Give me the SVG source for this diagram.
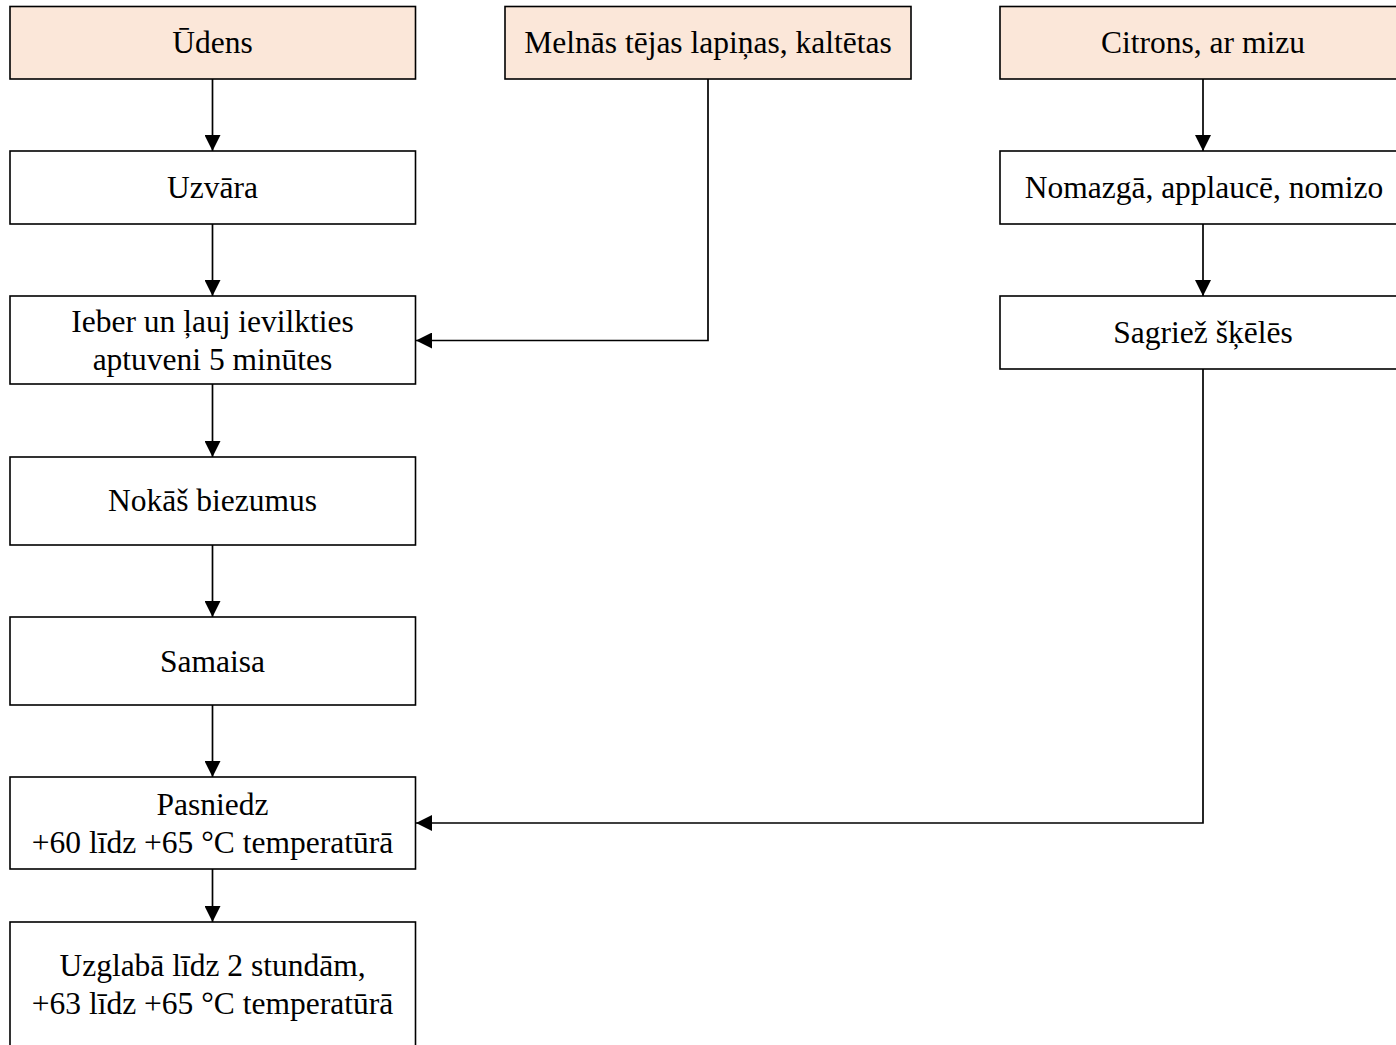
<svg xmlns="http://www.w3.org/2000/svg" width="1396" height="1045" viewBox="0 0 1396 1045">
<style>
.box{fill:#ffffff;stroke:#000;stroke-width:1.6}
.in{fill:#fbe7d9}
.t{font-family:"Liberation Serif","Times New Roman",serif;font-size:31.5px;fill:#000;text-anchor:middle}
.c{fill:none;stroke:#000;stroke-width:1.7}
</style>
<defs>
<marker id="ah" markerUnits="userSpaceOnUse" markerWidth="16" markerHeight="16" refX="16" refY="8" orient="auto">
<path d="M0,0 L16,8 L0,16 Z" fill="#000"/>
</marker>
</defs>
<rect width="1396" height="1045" fill="#fff"/>
<g id="connectors">
<line class="c" x1="212.5" y1="79" x2="212.5" y2="151" marker-end="url(#ah)"/>
<line class="c" x1="212.5" y1="224" x2="212.5" y2="296" marker-end="url(#ah)"/>
<line class="c" x1="212.5" y1="384" x2="212.5" y2="457" marker-end="url(#ah)"/>
<line class="c" x1="212.5" y1="545" x2="212.5" y2="617" marker-end="url(#ah)"/>
<line class="c" x1="212.5" y1="705" x2="212.5" y2="777" marker-end="url(#ah)"/>
<line class="c" x1="212.5" y1="869" x2="212.5" y2="922" marker-end="url(#ah)"/>
<polyline class="c" points="708,79 708,340.5 416,340.5" marker-end="url(#ah)"/>
<line class="c" x1="1203" y1="79" x2="1203" y2="151" marker-end="url(#ah)"/>
<line class="c" x1="1203" y1="224" x2="1203" y2="296" marker-end="url(#ah)"/>
<polyline class="c" points="1203,369 1203,823 416,823" marker-end="url(#ah)"/>
</g>
<g id="n-udens"><rect class="box in" x="10" y="6.5" width="405.5" height="72.5"/><text class="t" x="212.5" y="52.5">Ūdens</text></g>
<g id="n-teja"><rect class="box in" x="505" y="6.5" width="406" height="72.5"/><text class="t" x="708" y="52.5">Melnās tējas lapiņas, kaltētas</text></g>
<g id="n-citrons"><rect class="box in" x="1000" y="6.5" width="406" height="72.5"/><text class="t" x="1203" y="52.5">Citrons, ar mizu</text></g>
<g id="n-uzvara"><rect class="box" x="10" y="151" width="405.5" height="73"/><text class="t" x="212.5" y="198">Uzvāra</text></g>
<g id="n-nomazga"><rect class="box" x="1000" y="151" width="406" height="73"/><text class="t" x="1204" y="198">Nomazgā, applaucē, nomizo</text></g>
<g id="n-ieber"><rect class="box" x="10" y="296" width="405.5" height="88"/><text class="t" x="212.5" y="332">Ieber un ļauj ievilkties</text><text class="t" x="212.5" y="369.5">aptuveni 5 minūtes</text></g>
<g id="n-sagriez"><rect class="box" x="1000" y="296" width="406" height="73"/><text class="t" x="1203" y="343">Sagriež šķēlēs</text></g>
<g id="n-nokas"><rect class="box" x="10" y="457" width="405.5" height="88"/><text class="t" x="212.5" y="510.5">Nokāš biezumus</text></g>
<g id="n-samaisa"><rect class="box" x="10" y="617" width="405.5" height="88"/><text class="t" x="212.5" y="671.5">Samaisa</text></g>
<g id="n-pasniedz"><rect class="box" x="10" y="777" width="405.5" height="92"/><text class="t" x="212.5" y="815">Pasniedz</text><text class="t" x="212.5" y="852.5">+60 līdz +65 °C temperatūrā</text></g>
<g id="n-uzglaba"><rect class="box" x="10" y="922" width="405.5" height="126"/><text class="t" x="212.5" y="975.5">Uzglabā līdz 2 stundām,</text><text class="t" x="212.5" y="1013.5">+63 līdz +65 °C temperatūrā</text></g>
</svg>
